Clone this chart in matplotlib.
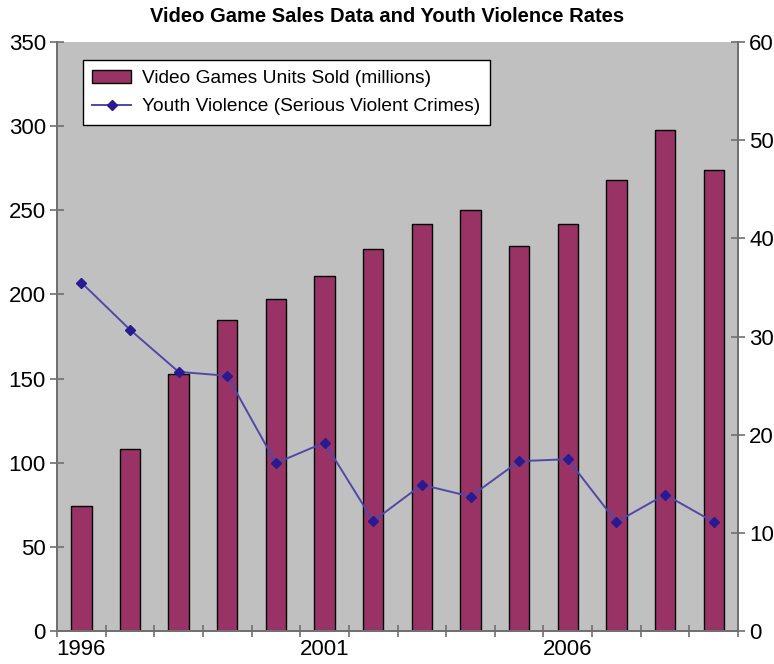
import matplotlib.pyplot as plt
from matplotlib.patches import Patch
from matplotlib.lines import Line2D

plt.rcParams['font.family'] = ['Liberation Sans', 'DejaVu Sans']

anos = [1996, 1997, 1998, 1999, 2000, 2001, 2002, 2003, 2004, 2005, 2006, 2007, 2008, 2009]
unidades_vendidas = [74, 108, 153, 185, 197, 211, 227, 242, 250, 229, 242, 268, 298, 274]
violencia_juvenil = [35.5, 30.7, 26.4, 26.0, 17.1, 19.2, 11.2, 14.9, 13.7, 17.3, 17.5, 11.1, 13.9, 11.1]
rotulos_anos = ['1996', '2001', '2006']

cor_barra = '#993366'
cor_linha = '#5048a8'
cor_marcador = '#2a1a90'
cor_fundo = '#c0c0c0'
cor_eixo = '#707070'

fig = plt.figure(figsize=(7.74, 6.64), dpi=100)
ax = fig.add_axes([0.0736, 0.0497, 0.88, 0.887])
ax2 = ax.twinx()

x = list(range(len(anos)))
ax.set_facecolor(cor_fundo)
ax.bar(x, unidades_vendidas, width=0.42, color=cor_barra, edgecolor='black', linewidth=1.0, zorder=2)
ax2.plot(x, violencia_juvenil, color=cor_linha, linewidth=1.4, marker='D', markersize=5,
         markerfacecolor=cor_marcador, markeredgecolor=cor_marcador, zorder=3)

ax.set_xlim(-0.5, len(anos) - 0.5)
ax.set_ylim(0, 350)
ax2.set_ylim(0, 60)
ax.set_yticks(range(0, 351, 50))
ax2.set_yticks(range(0, 61, 10))

# ticks nas divisas das categorias, rotulos no centro
ax.set_xticks([i - 0.5 for i in range(len(anos) + 1)])
ax.set_xticklabels([])
ax.set_xticks([anos.index(int(r)) for r in rotulos_anos], minor=True)
ax.set_xticklabels(rotulos_anos, minor=True)
ax.tick_params(axis='x', which='major', direction='inout', length=9, color=cor_eixo, width=1.2)
ax.tick_params(axis='x', which='minor', length=0, labelsize=16, pad=6)
ax.tick_params(axis='y', direction='inout', length=10, color=cor_eixo, width=1.2, labelsize=16, pad=3)
ax2.tick_params(axis='y', direction='inout', length=10, color=cor_eixo, width=1.2, labelsize=16, pad=3)

for a in (ax, ax2):
    a.spines['top'].set_visible(False)
    for lado in ('left', 'right', 'bottom'):
        a.spines[lado].set_color(cor_eixo)
        a.spines[lado].set_linewidth(1.3)

fig.suptitle('Video Game Sales Data and Youth Violence Rates', fontsize=14.5, fontweight='bold', y=0.99)

handles = [
    Patch(facecolor=cor_barra, edgecolor='black', label='Video Games Units Sold (millions)'),
    Line2D([0], [0], color=cor_linha, linewidth=1.4, marker='D', markersize=5,
           markerfacecolor=cor_marcador, markeredgecolor=cor_marcador,
           label='Youth Violence (Serious Violent Crimes)'),
]
leg = ax2.legend(handles=handles, loc='upper left', bbox_to_anchor=(0.038, 0.969), borderaxespad=0,
                 fontsize=13.8, fancybox=False, framealpha=1, edgecolor='black', handlelength=2.0,
                 borderpad=0.5, labelspacing=0.55, handletextpad=0.6)
leg.get_frame().set_linewidth(1.0)

plt.savefig('out.png', dpi=100)
